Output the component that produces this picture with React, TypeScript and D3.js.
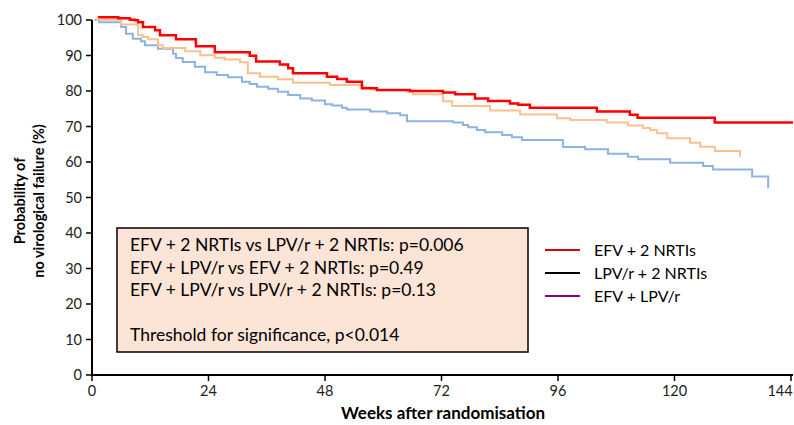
import React from "react";
import * as d3 from "d3";

// Kaplan-Meier steps: week at which each level starts, and the level (%)
const efvNrtiWeeks = [1.2, 5.4, 7.8, 8.9, 9.5, 10.5, 13, 14, 17.3, 21.4, 25.3, 32.5, 33.8, 38.7, 40.4, 41.4, 48.4, 50.5, 52.5, 55.6, 58.7, 65.5, 72.3, 74.8, 78.9, 81.6, 86.1, 87.8, 90.2, 104, 110.8, 112.4, 128.3, 144.4];
const efvNrtiValues = [100.8, 100.5, 100.1, 99.9, 99.4, 98.0, 97.1, 95.7, 94.6, 92.6, 90.9, 89.9, 88.3, 87.5, 86.4, 85.0, 84.0, 83.4, 82.6, 80.8, 80.3, 80.0, 79.6, 79.1, 77.9, 77.2, 76.5, 76.1, 75.3, 74.2, 73.3, 72.5, 71.1, 71.1];

const efvLpvWeeks = [0.8, 6.0, 9.5, 10.5, 11.6, 13.6, 14.6, 19.2, 22.3, 25.3, 27.4, 30.5, 32.1, 34.6, 38.3, 41.4, 49, 55.8, 57.5, 58.7, 64.9, 66.1, 72.3, 74.2, 82, 88.2, 95.8, 98.5, 106, 110.4, 113.5, 115, 116.4, 118.5, 123.2, 125.3, 128.3, 133.5];
const efvLpvValues = [100.1, 98.7, 95.7, 95.2, 94.6, 92.9, 92.1, 91.2, 90.1, 89.4, 88.9, 88.1, 85.0, 84.0, 83.3, 82.3, 81.7, 81.0, 80.5, 80.3, 79.8, 79.1, 77.1, 75.8, 74.5, 73.4, 72.3, 71.8, 71.1, 70.3, 69.6, 69.0, 68.1, 66.7, 65.4, 64.3, 63.1, 61.5];

const lpvNrtiWeeks = [0.5, 1.5, 6.0, 7.0, 8.4, 10.1, 10.9, 13.6, 16.7, 17.3, 18.7, 21.2, 23.3, 25.7, 28, 30.9, 32.5, 34, 36.3, 38.3, 40.4, 42.9, 45.3, 48, 49.5, 51.5, 52.5, 57.3, 60.8, 63.5, 64.9, 74.4, 76.4, 77.5, 79.3, 81, 84.5, 86.5, 88.6, 97, 101.6, 106.3, 110.4, 112.5, 119.1, 125.9, 127.9, 136, 139.3];
const lpvNrtiValues = [100, 99.4, 98.0, 96.1, 94.7, 94.0, 92.9, 91.9, 90.5, 89.3, 88.2, 86.8, 85.3, 84.5, 83.9, 82.6, 82.0, 81.2, 80.6, 79.8, 78.9, 77.9, 77.3, 76.3, 75.9, 75.3, 74.8, 74.2, 73.7, 73.2, 71.5, 71.1, 70.4, 69.8, 69.0, 68.4, 67.6, 67.0, 66.2, 64.2, 63.6, 62.3, 61.5, 60.8, 59.8, 58.9, 57.9, 55.9, 52.6];

const xTicks = [0, 24, 48, 72, 96, 120, 144];
const yTicks = [0, 10, 20, 30, 40, 50, 60, 70, 80, 90, 100];

const legendLabels = ["EFV + 2 NRTIs", "LPV/r + 2 NRTIs", "EFV + LPV/r"];
const legendColors = ["#e00000", "#000000", "#800080"];

const boxLines = [
  "EFV + 2 NRTIs vs LPV/r + 2 NRTIs: p=0.006",
  "EFV + LPV/r vs EFV + 2 NRTIs: p=0.49",
  "EFV + LPV/r vs LPV/r + 2 NRTIs: p=0.13",
  "",
  "Threshold for significance, p<0.014",
];

const W = 794;
const H = 425;
const FONT = "Lato, 'Open Sans', sans-serif";

const x = d3.scaleLinear().domain([0, 144]).range([92, 791]);
const y = d3.scaleLinear().domain([0, 100]).range([375, 20]);

const step = d3
  .line<[number, number]>()
  .x((d) => x(d[0]))
  .y((d) => y(d[1]))
  .curve(d3.curveStepAfter);

const zipPts = (w: number[], v: number[]) =>
  w.map((wk, i) => [wk, v[i]] as [number, number]);

const series = [
  { pts: zipPts(lpvNrtiWeeks, lpvNrtiValues), color: "#8db3e2", width: 2 },
  { pts: zipPts(efvLpvWeeks, efvLpvValues), color: "#fac090", width: 2 },
  { pts: zipPts(efvNrtiWeeks, efvNrtiValues), color: "#ff0000", width: 2.5 },
];

export default function App() {
  return (
    <svg
      width={W}
      height={H}
      style={{ position: "absolute", left: 0, top: 0, background: "#fff" }}
      fontFamily={FONT}
    >
      {/* curves */}
      {series.map((s, i) => (
        <path
          key={i}
          d={step(s.pts) || ""}
          fill="none"
          stroke={s.color}
          strokeWidth={s.width}
        />
      ))}

      {/* axes */}
      <line x1={x(0)} x2={x(0)} y1={y(0) + 1} y2={y(100)} stroke="#000" strokeWidth={2} />
      <line x1={x(0) - 1} x2={793} y1={y(0)} y2={y(0)} stroke="#000" strokeWidth={2} />
      {yTicks.map((t) => (
        <g key={"y" + t}>
          <line x1={x(0) - 6} x2={x(0)} y1={y(t)} y2={y(t)} stroke="#000" strokeWidth={1.5} />
          <text x={x(0) - 10} y={y(t)} dy="0.35em" textAnchor="end" fontSize={14.5} fill="#222">
            {t}
          </text>
        </g>
      ))}
      {xTicks.map((t) => (
        <g key={"x" + t}>
          <line x1={x(t)} x2={x(t)} y1={y(0)} y2={y(0) + 6} stroke="#000" strokeWidth={1.5} />
          <text
            x={Math.min(x(t), W - 14)}
            y={y(0) + 21}
            textAnchor="middle"
            fontSize={14.5}
            fill="#222"
          >
            {t}
          </text>
        </g>
      ))}

      {/* axis titles */}
      <text x={443} y={419} textAnchor="middle" fontSize={17} fontWeight="bold">
        Weeks after randomisation
      </text>
      <g transform="translate(25,201) rotate(-90)">
        <text x={0} y={0} textAnchor="middle" fontSize={14.5} fontWeight="bold">
          Probability of
        </text>
        <text x={0} y={19} textAnchor="middle" fontSize={14.5} fontWeight="bold">
          no virological failure (%)
        </text>
      </g>

      {/* p-value box */}
      <rect x={117} y={228} width={411} height={124} fill="#fce4d6" stroke="#000" strokeWidth={1.5} />
      {boxLines.map((l, i) => (
        <text key={i} x={130} y={251 + i * 22.5} fontSize={17.5} fill="#000">
          {l}
        </text>
      ))}

      {/* legend */}
      {legendLabels.map((l, i) => (
        <g key={l}>
          <line x1={545} x2={580} y1={250 + i * 23} y2={250 + i * 23} stroke={legendColors[i]} strokeWidth={2} />
          <text x={594} y={250 + i * 23} dy="0.35em" fontSize={16} fill="#000">
            {l}
          </text>
        </g>
      ))}
    </svg>
  );
}
